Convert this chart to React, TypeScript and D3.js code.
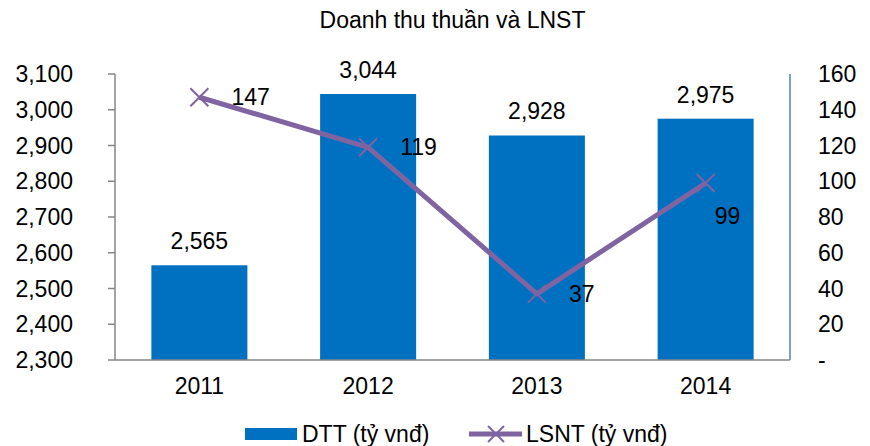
import React, { useRef, useLayoutEffect } from "react";
import * as d3 from "d3";

const years = ["2011", "2012", "2013", "2014"];
const dtt = [2565, 3044, 2928, 2975];
const lnst = [147, 119, 37, 99];
const leftTicks = [2300, 2400, 2500, 2600, 2700, 2800, 2900, 3000, 3100];
const rightTicks = [0, 20, 40, 60, 80, 100, 120, 140, 160];

export default function App() {
  const ref = useRef<SVGSVGElement>(null);
  useLayoutEffect(() => {
    const svg = d3.select(ref.current);
    svg.selectAll("*").remove();
    const width = 870;
    const height = 446;
    const left = 115;
    const right = 790;
    const top = 74;
    const bottom = 360;
    const font = "'Liberation Sans', Arial, sans-serif";
    const purple = "#8064A2";
    const blue = "#0070C0";

    svg
      .attr("width", width)
      .attr("height", height)
      .style("font-family", font)
      .style("font-size", "23px");

    const x = d3.scaleBand().domain(years).range([left, right]).paddingInner(0.431).paddingOuter(0.2155);
    const y = d3.scaleLinear().domain([2300, 3100]).range([bottom, top]);
    const y2 = d3.scaleLinear().domain([0, 160]).range([bottom, top]);
    const cx = (d: string) => (x(d) as number) + x.bandwidth() / 2;

    // title
    svg
      .append("text")
      .attr("x", (left + right) / 2)
      .attr("y", 28)
      .attr("text-anchor", "middle")
      .text("Doanh thu thuần và LNST");

    // bars
    svg
      .append("g")
      .selectAll("rect")
      .data(dtt)
      .join("rect")
      .attr("x", (d, i) => x(years[i]) as number)
      .attr("width", x.bandwidth())
      .attr("y", (d) => y(d))
      .attr("height", (d) => bottom - y(d))
      .attr("fill", blue);

    svg
      .append("g")
      .selectAll("text")
      .data(dtt)
      .join("text")
      .attr("x", (d, i) => cx(years[i]))
      .attr("y", (d) => y(d) - 16)
      .attr("text-anchor", "middle")
      .text((d) => d3.format(",")(d));

    // left axis
    const gl = svg.append("g");
    gl.append("line")
      .attr("x1", left).attr("x2", left)
      .attr("y1", top).attr("y2", bottom)
      .attr("stroke", "#868686").attr("stroke-width", 1.5);
    gl.selectAll("line.tick")
      .data(leftTicks)
      .join("line")
      .attr("class", "tick")
      .attr("x1", left - 7).attr("x2", left)
      .attr("y1", (d) => y(d)).attr("y2", (d) => y(d))
      .attr("stroke", "#868686").attr("stroke-width", 1.5);
    gl.selectAll("text")
      .data(leftTicks)
      .join("text")
      .attr("x", 73)
      .attr("y", (d) => y(d))
      .attr("dy", "0.35em")
      .attr("text-anchor", "end")
      .text((d) => d3.format(",")(d));

    // right axis
    const gr = svg.append("g");
    gr.append("line")
      .attr("x1", right).attr("x2", right)
      .attr("y1", top).attr("y2", bottom)
      .attr("stroke", "#4F81BD").attr("stroke-width", 1.5);
    gr.selectAll("text")
      .data(rightTicks)
      .join("text")
      .attr("x", 818)
      .attr("y", (d) => y2(d))
      .attr("dy", "0.35em")
      .text((d) => (d === 0 ? "-" : String(d)));

    // bottom axis
    svg.append("line")
      .attr("x1", left).attr("x2", right)
      .attr("y1", bottom).attr("y2", bottom)
      .attr("stroke", "#868686").attr("stroke-width", 1.5);
    svg.append("g")
      .selectAll("text")
      .data(years)
      .join("text")
      .attr("x", (d) => cx(d))
      .attr("y", 394)
      .attr("text-anchor", "middle")
      .text((d) => d);

    // line series
    const line = d3
      .line<number>()
      .x((d, i) => cx(years[i]))
      .y((d) => y2(d));
    svg.append("path")
      .datum(lnst)
      .attr("d", line)
      .attr("fill", "none")
      .attr("stroke", purple)
      .attr("stroke-width", 5)
      .attr("stroke-linejoin", "round");

    const cross = (g: any, px: number, py: number, s: number) => {
      g.append("path")
        .attr("d", `M${px - s},${py - s}L${px + s},${py + s}M${px - s},${py + s}L${px + s},${py - s}`)
        .attr("stroke", purple)
        .attr("stroke-width", 2)
        .attr("fill", "none");
    };
    const marks = svg.append("g");
    lnst.forEach((d, i) => cross(marks, cx(years[i]), y2(d), 9));

    svg.append("g")
      .selectAll("text")
      .data(lnst)
      .join("text")
      .attr("x", (d, i) => cx(years[i]) + (i === 3 ? 9 : 32))
      .attr("y", (d, i) => y2(d) + (i === 3 ? 33 : 0))
      .attr("dy", "0.35em")
      .text((d) => d);

    // legend
    const lg = svg.append("g");
    lg.append("rect")
      .attr("x", 245).attr("y", 428)
      .attr("width", 52).attr("height", 12)
      .attr("fill", blue);
    lg.append("text").attr("x", 302).attr("y", 442).text("DTT (tỷ vnđ)");
    lg.append("line")
      .attr("x1", 469).attr("x2", 522)
      .attr("y1", 434).attr("y2", 434)
      .attr("stroke", purple).attr("stroke-width", 5);
    cross(lg, 496, 434, 8);
    lg.append("text").attr("x", 526).attr("y", 442).text("LSNT (tỷ vnđ)");
  }, []);

  return (
    <div style={{ position: "absolute", left: 0, top: 0 }}>
      <svg ref={ref} style={{ display: "block" }} />
    </div>
  );
}
